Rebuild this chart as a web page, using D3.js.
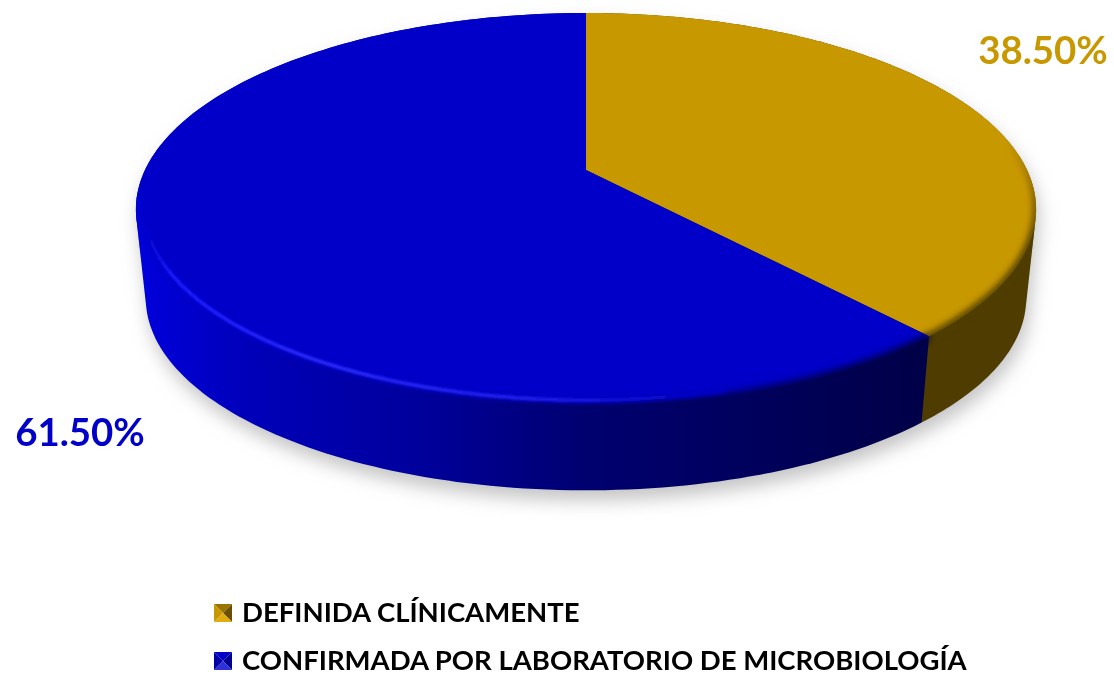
<!DOCTYPE html>
<html><head><meta charset="utf-8">
<script src="https://cdn.jsdelivr.net/npm/d3@7"></script>
<style>html,body{margin:0;background:#fff}svg{display:block}text{font-family:Lato,"Open Sans",sans-serif;font-weight:700}</style>
</head><body><svg id="c" width="1114" height="675"></svg>
<script>
const categories = ["DEFINIDA CLÍNICAMENTE","CONFIRMADA POR LABORATORIO DE MICROBIOLOGÍA"];
const values = [38.5,61.5];
const labels = ["38.50%","61.50%"];
const topColors = ["#c89800","#0000c8"];
const svg = d3.select("#c");
const defs = svg.append("defs");

const cx=586, cy=170, A=441, B=188.4, k=0.2, depth=90, shrink=0.978;
function project(a,level,r=1){
  const u=r*Math.sin(a), v=-r*Math.cos(a), w=1-k*v;
  const s = level? shrink:1;
  return [cx+A*s*u/w, cy+B*s*v/w+(level?depth:0)];
}
const arcs = d3.pie().sort(null)(values);
const line = d3.line();
const samples = (a0,a1,level,r=1)=>d3.range(0,181).map(i=>project(a0+(a1-a0)*i/180,level,r));
const prism = d=>line(d3.polygonHull(samples(d.startAngle,d.endAngle,0).concat(samples(d.startAngle,d.endAngle,1))))+"Z";
const rad = deg=>deg*Math.PI/180;

function blur(id,sd){
  defs.append("filter").attr("id",id).attr("filterUnits","userSpaceOnUse").attr("x",0).attr("y",0).attr("width",1114).attr("height",675)
   .append("feGaussianBlur").attr("stdDeviation",sd);
}
blur("blurShadow",9); blur("blurRim",3); blur("blurLine",1.3); blur("blurText",0.45);

function grad(id,x1,y1,x2,y2,stops){
  const g=defs.append("linearGradient").attr("id",id).attr("gradientUnits","userSpaceOnUse").attr("x1",x1).attr("x2",x2).attr("y1",y1).attr("y2",y2);
  stops.forEach(d=>g.append("stop").attr("offset",d[0]).attr("stop-color",d[1]));
}
grad("side1",136,0,920,0,[[0,"#0000dc"],[.15,"#0000b8"],[.36,"#00009c"],[.57,"#000070"],[.75,"#000060"],[1,"#000048"]]);
grad("rimBlue",144,0,700,0,[[0,"#0000c8"],[.05,"#1c1cff"],[.3,"#2c2cff"],[.7,"#2020f0"],[1,"#0000c8"]]);
grad("rimGold",0,140,0,235,[[0,"#c89800"],[.5,"#8a6800"],[1,"#4f3c00"]]);

// shadow
const all={startAngle:0,endAngle:2*Math.PI};
svg.append("path").attr("d",line(d3.polygonHull(samples(0,2*Math.PI,1).concat(samples(0,2*Math.PI,0))).map(p=>[p[0]+3,p[1]+10]))+"Z").attr("fill","#c4c4c4").attr("filter","url(#blurShadow)");

// sides
const sideFill=["#4f3c00","url(#side1)"];
svg.selectAll("path.side").data(arcs).join("path").attr("class","side")
 .attr("d",prism).attr("fill",(d,i)=>sideFill[i]);

// top wedges
const wedge=d=>line([[cx,cy]].concat(samples(d.startAngle,d.endAngle,0)))+"Z";
svg.selectAll("path.top").data(arcs).join("path").attr("class","top")
 .attr("d",wedge).attr("fill",(d,i)=>topColors[i]);

// bevel, clipped to the solid's silhouette
const clip=defs.append("clipPath").attr("id","disc");
clip.append("path").attr("d",prism(all));
const rimRange=[[70,null],[null,262]];
const rimG=svg.append("g").attr("clip-path","url(#disc)");
rimG.selectAll("path.rim").data(arcs).join("path").attr("class","rim")
 .attr("d",(d,i)=>{
   const a0=rimRange[i][0]===null?d.startAngle:rad(rimRange[i][0]);
   const a1=rimRange[i][1]===null?d.endAngle:rad(rimRange[i][1]);
   return line(samples(a0,a1,0));
 })
 .attr("fill","none").attr("stroke",(d,i)=>i?"url(#side1)":"url(#rimGold)")
 .attr("stroke-width",7).attr("filter","url(#blurRim)");
// bright inner line on the blue edge
rimG.append("path").attr("d",line(samples(rad(165),rad(268),0,0.982)))
 .attr("fill","none").attr("stroke","url(#rimBlue)").attr("stroke-width",3.5).attr("filter","url(#blurLine)");

// value labels
const labelPos=[[1043,64],[80,446]];
const textG=svg.append("g").attr("filter","url(#blurText)");
textG.selectAll("text.val").data(labels).join("text").attr("class","val")
 .attr("x",(d,i)=>labelPos[i][0]).attr("y",(d,i)=>labelPos[i][1])
 .attr("text-anchor","middle").attr("font-size",38.4)
 .attr("fill",(d,i)=>topColors[i]).text(d=>d);

// legend
const legendY=d3.scalePoint().domain(categories).range([613,661]);
const s=18;
const iconShades=[["#9a7400","#6a5000","#e0ac10","#c89800"],["#0000c8","#000090","#3030d8","#0000a8"]];
categories.forEach((d,i)=>{
  const y=legendY(d);
  const g=svg.append("g").attr("transform",`translate(214,${y})`);
  const tris=[[[0,-9],[s,-9],[s/2,0]],[[s,-9],[s,9],[s/2,0]],[[0,9],[s,9],[s/2,0]],[[0,-9],[0,9],[s/2,0]]];
  tris.forEach((t,j)=>g.append("path").attr("d",line(t)+"Z").attr("fill",iconShades[i][j]));
  textG.append("text").attr("x",242).attr("y",y+8.5).attr("font-size",27.5).attr("fill","#000").text(d);
});
</script></body></html>
